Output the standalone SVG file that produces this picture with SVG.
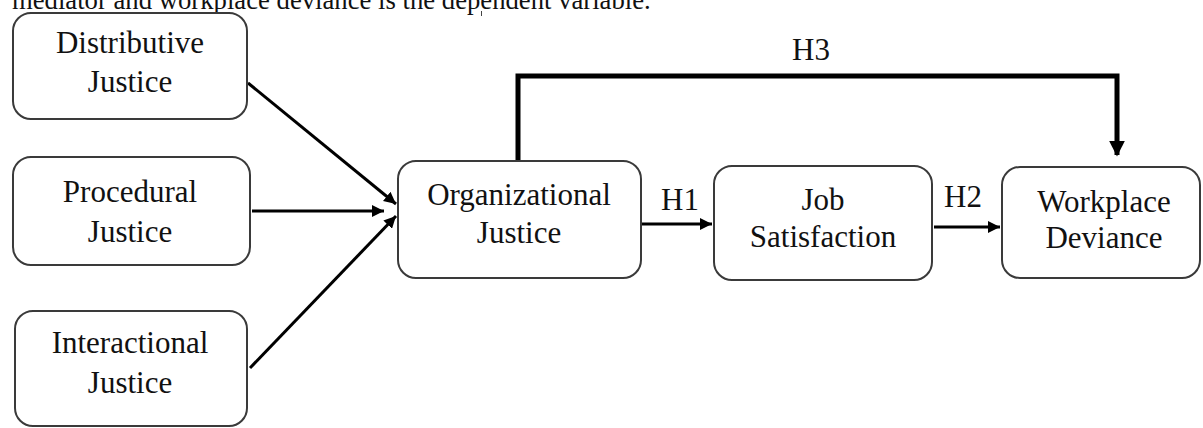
<svg xmlns="http://www.w3.org/2000/svg" width="1203" height="428" viewBox="0 0 1203 428">
<defs>
<style>
.box{fill:#fff;stroke:#3a3a3a;stroke-width:2}
.t{font-family:"Liberation Serif","Times New Roman",serif;font-size:31px;fill:#111;text-anchor:middle}
.lbl{font-family:"Liberation Serif","Times New Roman",serif;font-size:31px;fill:#111;text-anchor:middle}
.cap{font-family:"Liberation Serif","Times New Roman",serif;font-size:26.7px;fill:#111}
.c{fill:none;stroke:#000;stroke-width:3}
</style>
<marker id="ah" viewBox="0 0 10 10" markerWidth="12" markerHeight="12" refX="10" refY="5" orient="auto" markerUnits="userSpaceOnUse">
<path d="M0,0 L10,5 L0,10 z" fill="#000"/>
</marker>
<marker id="ah2" viewBox="0 0 10 10" markerWidth="16" markerHeight="16" refX="9" refY="5" orient="auto" markerUnits="userSpaceOnUse">
<path d="M0,0 L10,5 L0,10 z" fill="#000"/>
</marker>
</defs>
<rect width="1203" height="428" fill="#fff"/>
<text class="cap" x="12" y="9">mediator and workplace deviance is the dependent variable.</text>
<rect x="481" y="11" width="1" height="5" fill="#444"/>

<g id="connectors">
<line class="c" x1="248" y1="83" x2="396" y2="204" marker-end="url(#ah)"/>
<line class="c" x1="252" y1="211" x2="384" y2="211" marker-end="url(#ah)"/>
<line class="c" x1="250" y1="368" x2="396" y2="216" marker-end="url(#ah)"/>
<line class="c" x1="642" y1="224" x2="712" y2="224" marker-end="url(#ah)"/>
<line class="c" x1="934" y1="227" x2="1000" y2="227" marker-end="url(#ah)"/>
<path d="M518,161 V76 H1117 V155" fill="none" stroke="#000" stroke-width="5" marker-end="url(#ah2)"/>
<text class="lbl" x="680" y="210">H1</text>
<text class="lbl" x="963" y="207">H2</text>
<text class="lbl" x="811" y="60">H3</text>
</g>

<g id="distributive">
<rect class="box" x="13" y="13" width="234" height="106" rx="18"/>
<text class="t" x="130" y="53">Distributive</text>
<text class="t" x="130" y="92">Justice</text>
</g>
<g id="procedural">
<rect class="box" x="13" y="157" width="237" height="108" rx="18"/>
<text class="t" x="130" y="202">Procedural</text>
<text class="t" x="130" y="242">Justice</text>
</g>
<g id="interactional">
<rect class="box" x="15" y="311" width="232" height="115" rx="18"/>
<text class="t" x="130" y="353">Interactional</text>
<text class="t" x="130" y="393">Justice</text>
</g>
<g id="organizational">
<rect class="box" x="398" y="161" width="243" height="117" rx="18"/>
<text class="t" x="519" y="205">Organizational</text>
<text class="t" x="519" y="243">Justice</text>
</g>
<g id="job">
<rect class="box" x="714" y="166" width="218" height="114" rx="18"/>
<text class="t" x="823" y="210">Job</text>
<text class="t" x="823" y="247">Satisfaction</text>
</g>
<g id="workplace">
<rect class="box" x="1002" y="167" width="198" height="111" rx="18"/>
<text class="t" x="1104" y="212">Workplace</text>
<text class="t" x="1104" y="248">Deviance</text>
</g>
</svg>
